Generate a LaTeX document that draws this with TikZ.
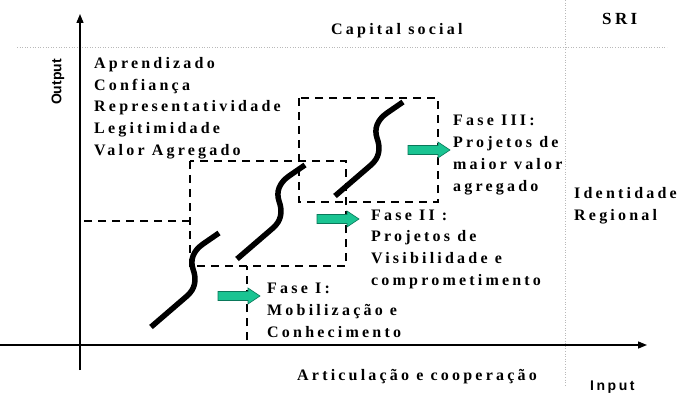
\documentclass[tikz,border=0pt]{standalone}
\usepackage{fontspec}
\setmainfont{Liberation Serif}
\newfontfamily\spserif[LetterSpace=20]{Liberation Serif Bold}
\newfontfamily\spsans[LetterSpace=18]{Liberation Sans Bold}
\newfontfamily\plsans{Liberation Sans Bold}
\usetikzlibrary{arrows.meta}
\definecolor{arrowfill}{RGB}{26,196,146}
\definecolor{arrowline}{RGB}{10,120,90}
\definecolor{guidegray}{RGB}{185,185,185}
\tikzset{
  lbl/.style={font=\spserif\fontsize{16}{21.7}\selectfont, inner sep=0pt, align=left},
  axisline/.style={line width=1.4pt, -{Triangle[length=9pt,width=7pt]}},
  guideline/.style={draw=guidegray, dotted, line width=0.6pt},
  dashbox/.style={line width=2.3pt, dash pattern=on 8pt off 6pt},
  scurve/.pic={\draw[line width=5.5pt] (0,0) -- (36,-31) .. controls (44,-38) and (46,-47) .. (42,-58) .. controls (39,-67) and (42,-76) .. (52,-83) -- (68,-94);},
  garrow/.pic={\draw[fill=arrowfill, draw=arrowline, line width=0.6pt] (0,-4.5) -- (30,-4.5) -- (30,-8) -- (42,0) -- (30,8) -- (30,4.5) -- (0,4.5) -- cycle;}
}
\begin{document}
\begin{tikzpicture}[x=1pt,y=-1pt]
\useasboundingbox (0,0) rectangle (682,406);
% guide lines
\draw[guideline] (17,47) -- (667,47);
\draw[guideline] (565,0) -- (565,385);
% axes
\coordinate (ybot) at (80,370);
\coordinate (ytop) at (80,14);
\coordinate (xl) at (0,345);
\coordinate (xr) at (647,345);
\draw[axisline] (ybot) -- (ytop);
\draw[axisline] (xl) -- (xr);
% dashed phase boxes
\draw[dashbox] (190,221) -- (80,221) -- (80,345) -- (247,345) -- (247,266);
\draw[dashbox] (190,161) rectangle (346,266);
\draw[dashbox] (299,98) rectangle (438,202);
% S curves
\pic at (151,327) {scurve};
\pic at (237,259) {scurve};
\pic at (335,196) {scurve};
% green arrows
\pic at (218,296) {garrow};
\pic at (317,219) {garrow};
\pic at (408,150) {garrow};
% texts
\node[lbl, anchor=base west] (cap) at (331,35) {Capital social};
\node[lbl, anchor=base west, font=\spserif\fontsize{17}{20}\selectfont] (sri) at (602,25) {SRI};
\node[lbl, anchor=north west] (learn) at (94,57) {Aprendizado\\Confiança\\Representatividade\\Legitimidade\\Valor Agregado};
\node[lbl, anchor=north west, font=\spserif\fontsize{16}{22.3}\selectfont] (fase3) at (453,114.4) {Fase III:\\Projetos de\\maior valor\\agregado};
\node[lbl, anchor=north west] (fase2) at (371,209.4) {Fase II :\\Projetos de\\Visibilidade e\\comprometimento};
\node[lbl, anchor=north west, font=\spserif\fontsize{16}{22}\selectfont] (fase1) at (267,282.4) {Fase I:\\Mobilização e\\Conhecimento};
\node[lbl, anchor=north west, font=\spserif\fontsize{16}{22}\selectfont] (ident) at (574,187) {Identidade\\Regional};
\node[lbl, anchor=base west] (artic) at (297,380) {Articulação e cooperação};
\node[anchor=base west, inner sep=0pt, font=\spsans\fontsize{14}{16}\selectfont] (input) at (590,390) {Input};
\node[rotate=90, inner sep=0pt, font=\plsans\fontsize{14}{16}\selectfont] (output) at (58,82) {Output};
\end{tikzpicture}
\end{document}
